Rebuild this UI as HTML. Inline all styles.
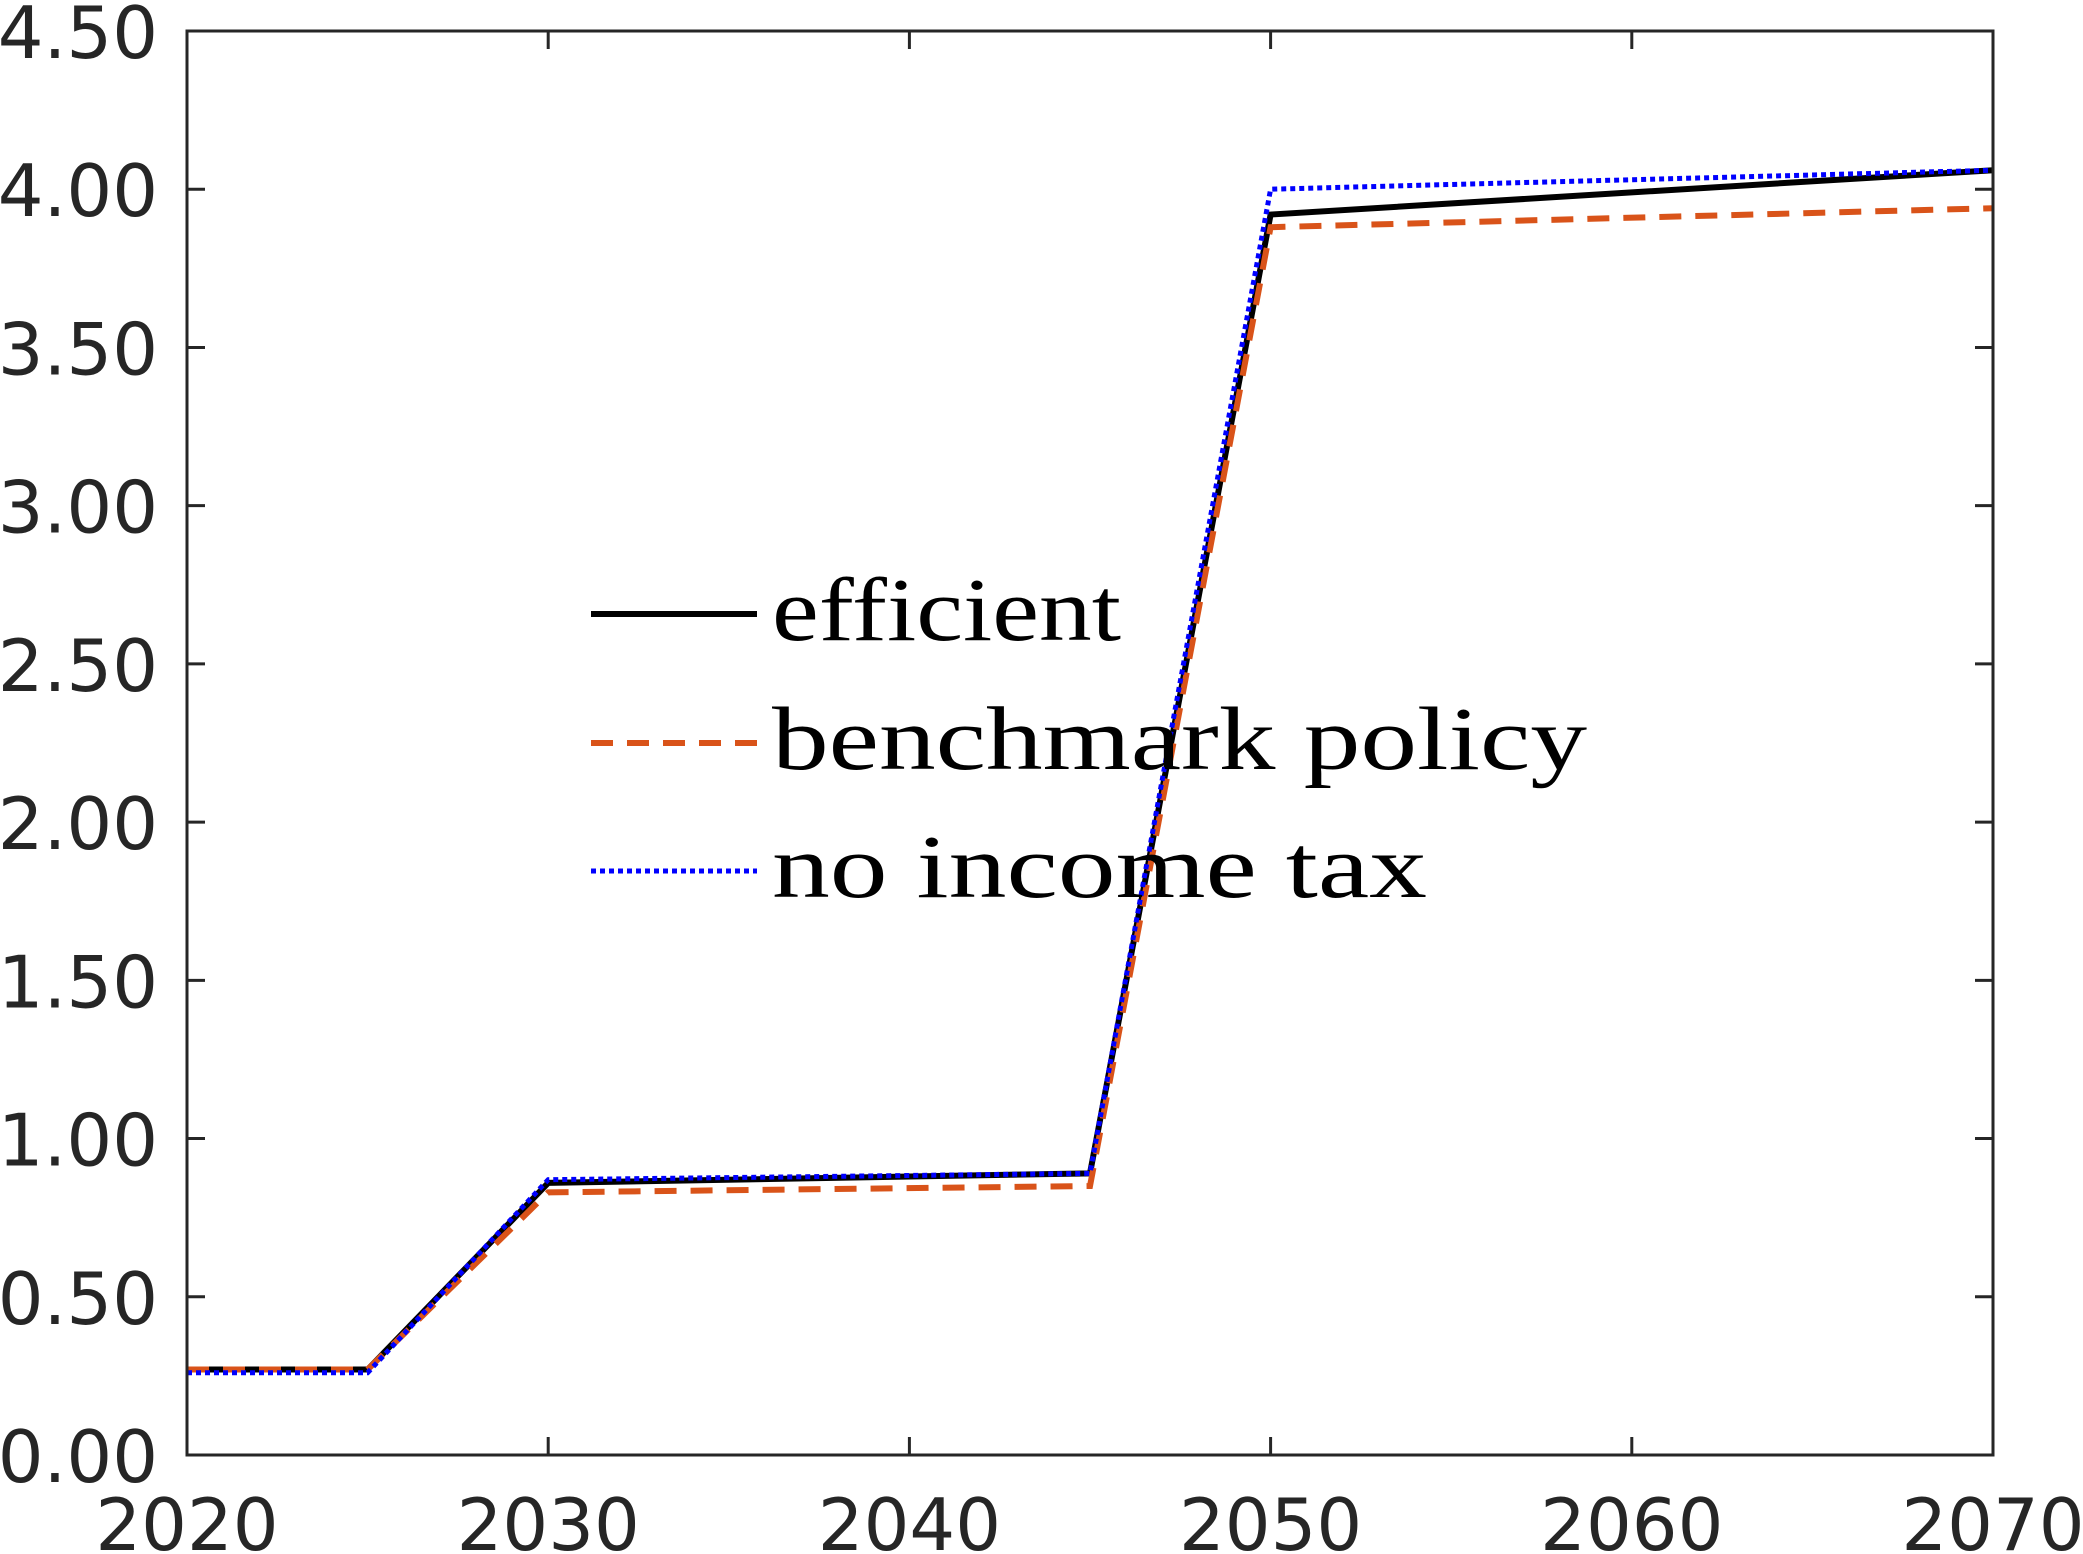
<!DOCTYPE html>
<html><head><meta charset="utf-8"><style>
html,body{margin:0;padding:0;background:#fff;}
svg{display:block;}
</style></head><body>
<svg id="chart" width="2083" height="1554" viewBox="0 0 2083 1554" xmlns="http://www.w3.org/2000/svg">
<rect x="187" y="31" width="1806" height="1424" fill="#fff"/>
<g id="grid"></g>
<g id="series"></g>
<rect x="187" y="31" width="1806" height="1424" fill="none" stroke="#262626" stroke-width="3"/>
<g id="ticks"></g>
<g font-family="'Liberation Serif', serif" font-size="90" fill="#000">
  <line x1="591" y1="614" x2="757" y2="614" stroke="#000" stroke-width="6"/>
  <text x="772" y="640" textLength="349" lengthAdjust="spacingAndGlyphs">efficient</text>
  <line x1="591" y1="743" x2="757" y2="743" stroke="#D95319" stroke-width="6" stroke-dasharray="22,14"/>
  <text x="772" y="769" textLength="815" lengthAdjust="spacingAndGlyphs">benchmark policy</text>
  <line x1="591" y1="871" x2="757" y2="871" stroke="#0000FF" stroke-width="5" stroke-dasharray="5,4"/>
  <text x="772" y="897" textLength="655" lengthAdjust="spacingAndGlyphs">no income tax</text>
</g>
</svg>
<script>
const years = [2020, 2025, 2030, 2045, 2050, 2070];
const efficient = [0.27, 0.27, 0.86, 0.89, 3.92, 4.06];
const benchmark = [0.27, 0.27, 0.83, 0.85, 3.88, 3.94];
const noIncomeTax = [0.26, 0.26, 0.87, 0.89, 4.00, 4.06];
const xTicks = [2020, 2030, 2040, 2050, 2060, 2070];
const yTicks = [0, 0.5, 1, 1.5, 2, 2.5, 3, 3.5, 4, 4.5];
const yTickLabels = ["0.00","0.50","1.00","1.50","2.00","2.50","3.00","3.50","4.00","4.50"];

const L=187,R=1993,T=31,B=1455;
function xs(v){return L+(v-2020)/50*(R-L);}
function ys(v){return B-v/4.5*(B-T);}
const NS="http://www.w3.org/2000/svg";
const ticks=document.getElementById('ticks');
const series=document.getElementById('series');
function mk(tag,attrs,parent){const e=document.createElementNS(NS,tag);for(const k in attrs)e.setAttribute(k,attrs[k]);parent.appendChild(e);return e;}

xTicks.forEach((t,i)=>{
  const x=xs(t);
  const a=mk('line',{x1:x,y1:B,x2:x,y2:B-18,stroke:'#262626','stroke-width':3},ticks);
  
  
  const b=mk('line',{x1:x,y1:T,x2:x,y2:T+18,stroke:'#262626','stroke-width':3},ticks);
  
  
  const tx=mk('text',{x:x,y:1550,'text-anchor':'middle','font-family':"'DejaVu Sans', sans-serif",'font-size':72,fill:'#262626'},ticks);
  tx.textContent=String(t);
  
  
});
yTicks.forEach((t,i)=>{
  const y=ys(t);
  const a=mk('line',{x1:L,y1:y,x2:L+18,y2:y,stroke:'#262626','stroke-width':3},ticks);
  
  
  const b=mk('line',{x1:R,y1:y,x2:R-18,y2:y,stroke:'#262626','stroke-width':3},ticks);
  
  
  const tx=mk('text',{x:158,y:y+27,'text-anchor':'end','font-family':"'DejaVu Sans', sans-serif",'font-size':72,fill:'#262626'},ticks);
  tx.textContent=yTickLabels[i];
  
  
});
function pts(vals){return years.map((y,i)=>xs(y)+','+ys(vals[i])).join(' ');}
const s1=mk('polyline',{points:pts(efficient),fill:'none',stroke:'#000','stroke-width':6},series);


const s2=mk('polyline',{points:pts(benchmark),fill:'none',stroke:'#D95319','stroke-width':6,'stroke-dasharray':'22,14'},series);


const s3=mk('polyline',{points:pts(noIncomeTax),fill:'none',stroke:'#0000FF','stroke-width':5,'stroke-dasharray':'5,4'},series);


</script>
</body></html>
